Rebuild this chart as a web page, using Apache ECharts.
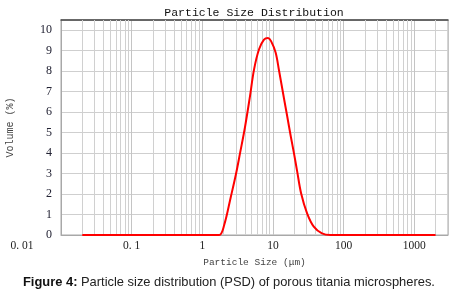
<!DOCTYPE html>
<html>
<head>
<meta charset="utf-8">
<script src="https://cdn.jsdelivr.net/npm/echarts@6/dist/echarts.min.js"></script>
<style>
html,body{margin:0;padding:0;background:#fff;}
#chart{width:465px;height:302px;}
</style>
</head>
<body>
<div id="chart"></div>
<script>
// ---- data ----
var particleSize = [0.02, 0.1, 1, 1.73, 2.04, 2.53, 2.98, 3.43, 4.01, 4.70, 5.40, 6.35, 7.46, 8.51, 9.40, 10.9, 12.2, 14.3, 15.9, 17.9, 19.8, 22.0, 25.0, 30.4, 37.8, 49.4, 65, 100, 1000, 2000];
var volumePct    = [0,    0,   0, 0,    0.49, 1.86, 2.94, 4.02, 5.25, 6.72, 8.09, 9.07, 9.54, 9.62, 9.47, 8.91, 8.02, 6.68, 5.80, 4.80, 4.00, 3.11, 2.04, 1.06, 0.41, 0.08, 0, 0, 0, 0];
var xTickValues  = [0.01, 0.1, 1, 10, 100, 1000];
var xTickLabels  = ['0. 01', '0. 1', '1', '10', '100', '1000'];
var yTickLabels  = ['0','1','2','3','4','5','6','7','8','9','10'];
var decadeStarts = [0.01, 0.1, 1, 10, 100, 1000];
var minorMultipliers = [2, 3, 4, 5, 6, 7, 8, 9];
var xMin = 0.01, xMax = 3000;
var yMin = 0, yMax = 10.5;

var seriesData = particleSize.map(function (s, i) { return [s, volumePct[i]]; });
var minorGrid = [];
decadeStarts.forEach(function (d) {
  minorMultipliers.forEach(function (m) {
    var v = +(d * m).toPrecision(6);
    if (v < xMax) minorGrid.push({ xAxis: v });
  });
});

function xLabel(v) {
  var best = 0, bd = Infinity;
  for (var i = 0; i < xTickValues.length; i++) {
    var d = Math.abs(Math.log10(v) - Math.log10(xTickValues[i]));
    if (d < bd) { bd = d; best = i; }
  }
  if (bd > 0.01) return '';
  return best === 0 ? '{first|' + xTickLabels[0] + '}' : xTickLabels[best];
}

var chart = echarts.init(document.getElementById('chart'), null, { renderer: 'canvas' });
chart.setOption({
  animation: false,
  backgroundColor: '#ffffff',
  title: [
    {
      text: 'Particle Size Distribution',
      left: 254, top: 7, textAlign: 'center', padding: 0,
      textStyle: { fontFamily: 'Liberation Mono', fontSize: 11.5, fontWeight: 'normal', color: '#111' }
    },
    {
      text: '{b|Figure 4:} Particle size distribution (PSD) of porous titania microspheres.',
      left: 23, top: 276, padding: 0,
      textStyle: {
        fontFamily: 'Liberation Sans', fontSize: 12.9, fontWeight: 'normal', color: '#222',
        rich: { b: { fontFamily: 'Liberation Sans', fontSize: 12.9, fontWeight: 'bold', color: '#111' } }
      }
    }
  ],
  grid: { left: 61, top: 20, right: 17, bottom: 67, show: true, borderColor: '#a8a8a8', borderWidth: 1, containLabel: false, outerBoundsMode: 'none' },
  xAxis: [
    {
      type: 'log', logBase: 10, min: xMin, max: xMax,
      name: 'Particle Size (μm)', nameLocation: 'middle', nameGap: 22,
      nameTextStyle: { fontFamily: 'Liberation Mono', fontSize: 9.5, color: '#444' },
      axisLine: { show: true, lineStyle: { color: '#a8a8a8', width: 1 } },
      axisTick: { show: false },
      axisLabel: {
        margin: 5, showMaxLabel: false, showMinLabel: true,
        fontFamily: 'Liberation Serif', fontSize: 11.5, color: '#222',
        formatter: xLabel,
        rich: { first: { fontFamily: 'Liberation Serif', fontSize: 11.5, color: '#222', padding: [0, 78, 0, 0] } }
      },
      splitLine: { show: true, lineStyle: { color: '#c4c4c4', width: 1 } }
    },
    {
      type: 'value', position: 'top', min: 0, max: 1,
      axisLine: { show: true, lineStyle: { color: '#444', width: 1.5 } },
      axisTick: { show: false }, axisLabel: { show: false }, splitLine: { show: false }
    }
  ],
  yAxis: {
    type: 'value', min: yMin, max: yMax, interval: 1,
    name: 'Volume (%)', nameLocation: 'middle', nameGap: 46, nameRotate: 90,
    nameTextStyle: { fontFamily: 'Liberation Mono', fontSize: 10, color: '#444' },
    axisLine: { show: true, lineStyle: { color: '#a8a8a8', width: 1 } },
    axisTick: { show: false },
    axisLabel: {
      margin: 9, showMaxLabel: false,
      fontFamily: 'Liberation Serif', fontSize: 12, color: '#223',
      formatter: function (v) { var i = Math.round(v); return (Math.abs(v - i) < 1e-6 && yTickLabels[i] !== undefined) ? yTickLabels[i] : ''; }
    },
    splitLine: { show: true, lineStyle: { color: '#cfcfcf', width: 1 } }
  },
  series: [
    {
      type: 'line', xAxisIndex: 0, yAxisIndex: 0,
      data: seriesData,
      showSymbol: false, smooth: 0.35,
      lineStyle: { color: '#ff0000', width: 2 },
      z: 5,
      markLine: {
        silent: true, symbol: 'none', animation: false,
        label: { show: false },
        lineStyle: { color: '#d0d0d0', width: 1, type: 'solid' },
        data: minorGrid,
        z: 1
      }
    }
  ]
});
</script>
</body>
</html>
